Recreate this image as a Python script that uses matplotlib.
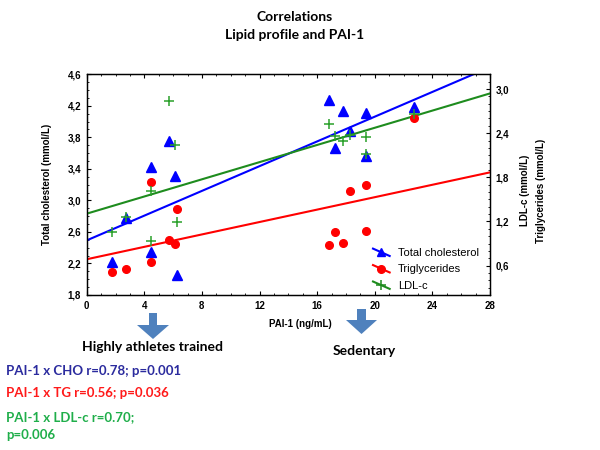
import matplotlib
matplotlib.use('Agg')
import matplotlib.pyplot as plt
import numpy as np
from matplotlib.ticker import MultipleLocator, FuncFormatter
from matplotlib.legend_handler import HandlerLine2D
from matplotlib.lines import Line2D
from matplotlib.patches import Polygon

# ---- data ----
pai1 = [1.78, 2.71, 4.49, 4.49, 5.70, 6.16, 6.30,
        16.79, 17.21, 17.78, 18.30, 19.41, 19.41, 22.75]
total_chol = [2.22, 2.78, 3.42, 2.35, 3.76, 3.31, 2.05,
              4.27, 3.67, 4.14, 3.885, 4.11, 3.56, 4.19]
triglycerides = [0.51, 0.56, 1.73, 0.65, 0.95, 0.89, 1.37,
                 0.88, 1.06, 0.91, 1.61, 1.69, 1.07, 2.61]
ldl_c = [1.05, 1.26, 1.62, 0.94, 2.84, 2.24, 1.19,
         2.53, 2.36, 2.29, 2.37, 2.35, 2.11, 2.66]

series_labels = ["Total cholesterol", "Triglycerides", "LDL-c"]
title_lines = ["Correlations", "Lipid profile and PAI-1"]
group_labels = ["Highly athletes trained", "Sedentary"]
stat_lines = ["PAI-1 x CHO r=0.78; p=0.001",
              "PAI-1 x TG r=0.56; p=0.036",
              "PAI-1 x LDL-c r=0.70;",
              "p=0.006"]

plt.rcParams['font.family'] = ['Liberation Sans', 'DejaVu Sans']

fig = plt.figure(figsize=(6, 4.5), dpi=100)
W, H = 600, 450
l, r, b, t = 86.7, 490, 295, 74.3
ax = fig.add_axes([l / W, 1 - b / H, (r - l) / W, (b - t) / H])
ax2 = ax.twinx()

BLUE, RED, GREEN = '#0000ff', '#ff0000', '#1e8c1e'

x = np.array(pai1)
xx = np.array([0, 28])

# regression lines
for ys, col, a in [(total_chol, BLUE, ax), (triglycerides, RED, ax2), (ldl_c, GREEN, ax2)]:
    k, c = np.polyfit(x, np.array(ys), 1)
    a.plot(xx, k * xx + c, color=col, lw=1.5, zorder=2)

ax.plot(x, total_chol, ls='none', marker='^', color=BLUE, ms=6.5, zorder=3)
ax2.plot(x, triglycerides, ls='none', marker='o', color=RED, ms=5.5, zorder=3)
ax2.plot(x, ldl_c, ls='none', marker='+', color='#2aa02a', ms=7, mew=1.1, zorder=3)

ax.set_xlim(0, 28)
ax.set_ylim(1.8, 4.6)
ax2.set_ylim(0.2, 3.2)

fmt1 = FuncFormatter(lambda v, p: f"{v:.1f}".replace('.', ','))
ax.xaxis.set_major_locator(MultipleLocator(4))
ax.xaxis.set_minor_locator(MultipleLocator(1))
ax.xaxis.set_major_formatter(FuncFormatter(lambda v, p: f"{v:.0f}"))
ax.yaxis.set_major_locator(MultipleLocator(0.4, offset=0.2))
ax.yaxis.set_minor_locator(MultipleLocator(0.1))
ax.yaxis.set_major_formatter(fmt1)
ax2.yaxis.set_major_locator(MultipleLocator(0.6))
ax2.yaxis.set_minor_locator(MultipleLocator(0.1))
ax2.yaxis.set_major_formatter(fmt1)

ax.tick_params(axis='x', which='both', direction='in', top=True, bottom=True, labelsize=7, pad=4)
ax.tick_params(axis='y', which='both', direction='in', left=True, right=False, labelsize=7, pad=4)
ax2.tick_params(axis='y', which='both', direction='in', right=True, labelsize=7, pad=4)
for a in (ax, ax2):
    a.tick_params(which='major', length=3, width=0.8)
    a.tick_params(which='minor', length=1.5, width=0.6)
    for s in a.spines.values():
        s.set_linewidth(0.9)
for lab in ax.get_xticklabels() + ax.get_yticklabels() + ax2.get_yticklabels():
    lab.set_fontweight('bold')

ax.set_ylabel("Total cholesterol (mmol/L)", fontsize=7, fontweight='bold')
ax.yaxis.set_label_coords(-0.086, 0.5)


class SlopedHandler(HandlerLine2D):
    def create_artists(self, legend, orig_handle, xdescent, ydescent,
                       width, height, fontsize, trans):
        x0, x1 = -xdescent, width - xdescent
        y0, y1 = height * 0.95 - ydescent, -ydescent + height * 0.0
        line = Line2D([x0, (x0 + x1) / 2, x1], [y0, (y0 + y1) / 2, y1])
        self.update_prop(line, orig_handle, legend)
        line.set_linestyle('-')
        line.set_linewidth(1.5)
        line.set_markevery([1])
        line.set_transform(trans)
        return [line]


lh1 = Line2D([], [], color=BLUE, marker='^', ms=6)
lh2 = Line2D([], [], color=RED, marker='o', ms=5.5)
lh3 = Line2D([], [], color=GREEN, marker='+', ms=7, mew=1.1)
leg = ax.legend([lh1, lh2, lh3], series_labels,
                handler_map={Line2D: SlopedHandler()},
                loc='upper left', bbox_to_anchor=((373 - l) / (r - l), (b - 248) / (b - t)),
                frameon=False, fontsize=8, borderpad=0, borderaxespad=0,
                handlelength=1.5, handletextpad=0.75, labelspacing=0.58)

# overlay for annotations in pixel coordinates
ov = fig.add_axes([0, 0, 1, 1], zorder=-1)
ov.set_xlim(0, W)
ov.set_ylim(H, 0)
ov.axis('off')

CAL = ['Lato', 'DejaVu Sans']
ov.text(295, 17, title_lines[0], ha='center', va='center', fontsize=10,
        fontweight='bold', family=CAL)
ov.text(295, 35, title_lines[1], ha='center', va='center', fontsize=10,
        fontweight='bold', family=CAL)

ov.text(300, 324, "PAI-1 (ng/mL)", ha='center', va='center', fontsize=7, fontweight='bold')
ov.text(525, 190, "LDL-c (mmol/L)", ha='center', va='center', fontsize=7,
        fontweight='bold', rotation=90)
ov.text(541, 191, "Triglycerides (mmol/L)", ha='center', va='center', fontsize=7,
        fontweight='bold', rotation=90)

ARROW = '#4f81bd'
for (cx, top, neck, tip, sw, hw) in [(153, 313, 325, 339, 8, 32), (361.5, 309, 320, 334, 9, 31)]:
    pts = [(cx - sw / 2, top), (cx + sw / 2, top), (cx + sw / 2, neck), (cx + hw / 2, neck),
           (cx, tip), (cx - hw / 2, neck), (cx - sw / 2, neck)]
    ov.add_patch(Polygon(pts, closed=True, facecolor=ARROW, edgecolor='none'))

ov.text(82, 347, group_labels[0], ha='left', va='center', fontsize=10, fontweight='bold', family=CAL)
ov.text(333, 351, group_labels[1], ha='left', va='center', fontsize=10, fontweight='bold', family=CAL)

ov.text(6, 371, stat_lines[0], ha='left', va='center', fontsize=9.5, fontweight='bold',
        family=CAL, color='#2b2b9e')
ov.text(6, 393, stat_lines[1], ha='left', va='center', fontsize=9.5, fontweight='bold',
        family=CAL, color='#ff1a1a')
ov.text(6, 417, stat_lines[2], ha='left', va='center', fontsize=9.5, fontweight='bold',
        family=CAL, color='#1fae4a')
ov.text(6, 435, stat_lines[3], ha='left', va='center', fontsize=9.5, fontweight='bold',
        family=CAL, color='#1fae4a')

fig.savefig('out.png', dpi=100)
